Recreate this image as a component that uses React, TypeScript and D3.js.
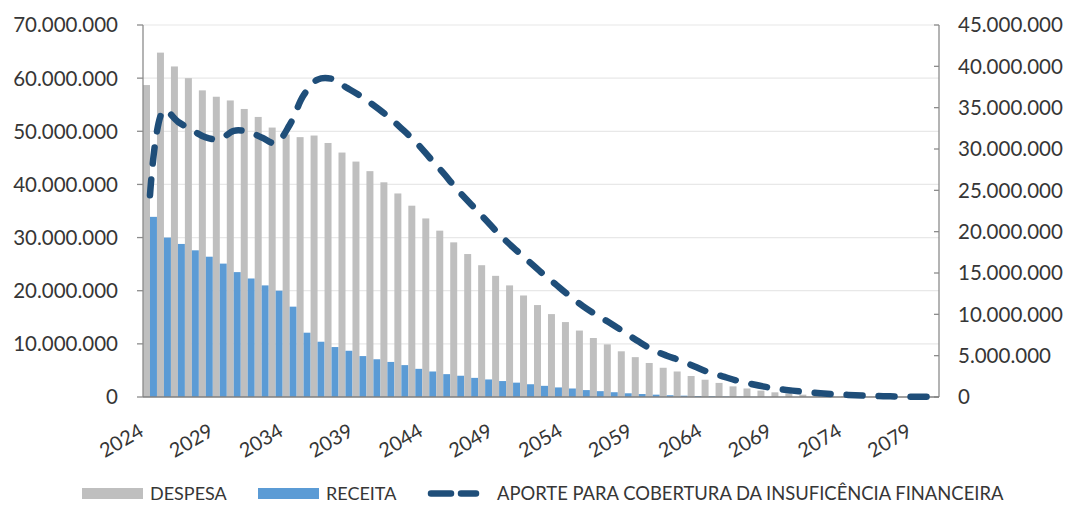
import * as d3 from 'd3';

// anos 2024..2080
const years = d3.range(2024, 2081).map(String);

// valores em milhões (R$)
const despesa = [
  58.7, 64.8, 62.2, 60.0, 57.7, 56.5, 55.8, 54.2, 52.7, 50.7,
  49.4, 48.9, 49.2, 47.8, 46.0, 44.3, 42.5, 40.4, 38.3, 36.0,
  33.6, 31.3, 29.1, 26.9, 24.8, 22.8, 21.0, 19.1, 17.3, 15.6,
  14.1, 12.5, 11.1, 9.9, 8.6, 7.5, 6.4, 5.5, 4.8, 3.95,
  3.25, 2.65, 2.0, 1.6, 1.2, 0.88, 0.63, 0.44, 0.3, 0.2,
  0.12, 0.08, 0.05, 0.03, 0.02, 0.01, 0.01,
];

const receita = [
  33.9, 30.0, 28.8, 27.6, 26.4, 25.1, 23.5, 22.3, 21.0, 20.0,
  17.0, 12.1, 10.4, 9.4, 8.7, 7.7, 7.1, 6.6, 6.0, 5.3,
  4.8, 4.3, 4.0, 3.6, 3.3, 3.0, 2.7, 2.4, 2.1, 1.8,
  1.6, 1.3, 1.1, 0.9, 0.7, 0.56, 0.44, 0.33, 0.25, 0.18,
  0.13, 0.09, 0.06, 0.04, 0.03, 0.02, 0.01, 0.01, 0.01, 0.01,
  0.01, 0.01, 0.01, 0.01, 0.01, 0.01, 0.01,
];

const aporte = [
  24.4, 34.7, 33.3, 32.3, 31.4, 31.2, 32.2, 32.1, 31.4, 30.7,
  32.9, 36.5, 38.4, 38.5, 37.5, 36.5, 35.3, 34.0, 32.5, 30.9,
  29.0, 27.1, 25.1, 23.3, 21.5, 19.7, 18.1, 16.6, 15.1, 13.7,
  12.3, 11.0, 9.9, 8.9, 7.8, 6.7, 5.7, 5.0, 4.4, 3.7,
  3.0, 2.5, 2.0, 1.6, 1.25, 0.97, 0.77, 0.6, 0.45, 0.33,
  0.25, 0.18, 0.12, 0.08, 0.05, 0.03, 0.02,
];

const leftTicks = [0, 10, 20, 30, 40, 50, 60, 70];
const rightTicks = [0, 5, 10, 15, 20, 25, 30, 35, 40, 45];
const xTickLabels = ['2024', '2029', '2034', '2039', '2044', '2049', '2054', '2059', '2064', '2069', '2074', '2079'];

const W = 1070;
const H = 505;
const margin = { top: 25, right: 131, bottom: 108, left: 143 };
const FONT = 'Lato, Calibri, sans-serif';
const TEXT = '#363636';

const fmt = (m: number) => (m === 0 ? '0' : d3.format(',')(m * 1e6).replace(/,/g, '.'));

export default function App() {
  const x0 = margin.left;
  const x1 = W - margin.right;
  const y0 = H - margin.bottom;
  const y1 = margin.top;

  const x = d3.scaleBand<string>().domain(years).range([x0, x1]).paddingInner(0).paddingOuter(0);
  const xs = d3.scaleBand<string>().domain(['d', 'r']).range([0, x.bandwidth()]).padding(0);
  const yL = d3.scaleLinear().domain([0, 70]).range([y0, y1]);
  const yR = d3.scaleLinear().domain([0, 45]).range([y0, y1]);

  const line = d3
    .line<number>()
    .x((_, i) => (x(years[i]) as number) + x.bandwidth() / 2)
    .y((d) => yR(d))
    .curve(d3.curveCatmullRom.alpha(0.5));

  return (
    <svg width={W} height={H} style={{ position: 'absolute', left: 0, top: 0, background: '#fff' }} fontFamily={FONT}>
      {/* grid */}
      {leftTicks.slice(1).map((t) => (
        <line key={'g' + t} x1={x0} x2={x1} y1={yL(t)} y2={yL(t)} stroke="#e8e8e8" strokeWidth={1.2} />
      ))}

      {/* bars */}
      {years.map((yr, i) => (
        <g key={yr}>
          <rect x={(x(yr) as number) + (xs('d') as number)} y={yL(despesa[i])} width={xs.bandwidth()} height={y0 - yL(despesa[i])} fill="#bfbfbf" />
          <rect x={(x(yr) as number) + (xs('r') as number)} y={yL(receita[i])} width={xs.bandwidth()} height={y0 - yL(receita[i])} fill="#5b9bd5" />
        </g>
      ))}

      {/* left axis */}
      <line x1={x0} x2={x0} y1={y1} y2={y0} stroke="#8c8c8c" strokeWidth={1.3} />
      {leftTicks.map((t) => (
        <g key={'l' + t}>
          <line x1={x0 - 6} x2={x0} y1={yL(t)} y2={yL(t)} stroke="#8c8c8c" strokeWidth={1.3} />
          <text x={x0 - 25} y={yL(t)} dy="0.36em" textAnchor="end" fontSize={20.5} fill={TEXT}>
            {fmt(t)}
          </text>
        </g>
      ))}

      {/* right axis */}
      <line x1={x1} x2={x1} y1={y1} y2={y0} stroke="#8c8c8c" strokeWidth={1.3} />
      {rightTicks.map((t) => (
        <g key={'r' + t}>
          <line x1={x1 - 5} x2={x1} y1={yR(t)} y2={yR(t)} stroke="#8c8c8c" strokeWidth={1.3} />
          <text x={x1 + 19} y={yR(t)} dy="0.36em" textAnchor="start" fontSize={20.5} fill={TEXT}>
            {fmt(t)}
          </text>
        </g>
      ))}

      {/* bottom axis */}
      <line x1={x0} x2={x1} y1={y0} y2={y0} stroke="#7f7f7f" strokeWidth={1.5} />
      {xTickLabels.map((lbl) => {
        const cx = (x(lbl) as number) + x.bandwidth() / 2;
        return (
          <text key={lbl} transform={`translate(${cx - 5},${y0 + 38}) rotate(-30)`} textAnchor="end" fontSize={20} fill={TEXT}>
            {lbl}
          </text>
        );
      })}

      {/* aporte line */}
      <path d={line(aporte) ?? ''} fill="none" stroke="#1f4e79" strokeWidth={6.5} strokeDasharray="16,16" strokeLinecap="round" />

      {/* legend */}
      <rect x={82} y={488} width={61} height={11} fill="#bfbfbf" />
      <text x={150} y={500} fontSize={18} fill={TEXT}>DESPESA</text>
      <rect x={258} y={488} width={61} height={11} fill="#5b9bd5" />
      <text x={326} y={500} fontSize={18} fill={TEXT}>RECEITA</text>
      <line x1={431} x2={476} y1={493.5} y2={493.5} stroke="#1f4e79" strokeWidth={6.5} strokeDasharray="20,10" strokeLinecap="round" />
      <text x={497} y={500} fontSize={18.4} fill={TEXT}>APORTE PARA COBERTURA DA INSUFICÊNCIA FINANCEIRA</text>
    </svg>
  );
}
